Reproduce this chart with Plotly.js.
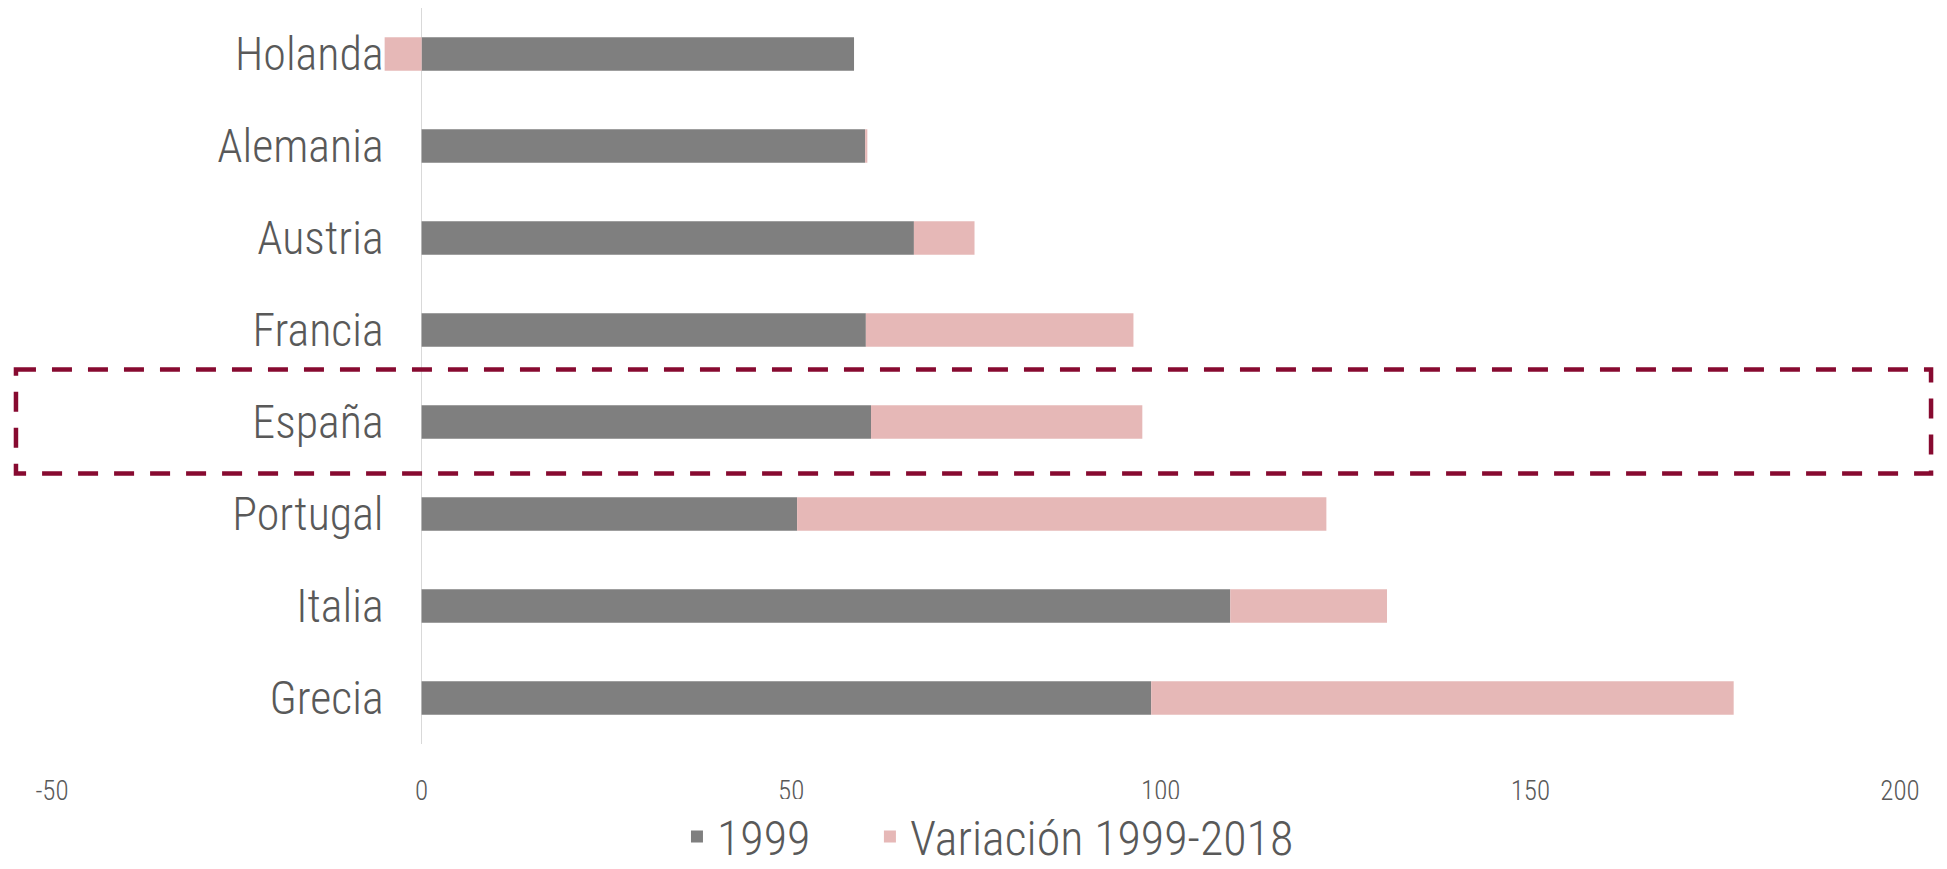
<!DOCTYPE html>
<html>
<head>
<meta charset="utf-8">
<script src="https://cdn.plot.ly/plotly-3.0.1.min.js"></script>
<style>html,body{margin:0;padding:0;background:#fff;}#chart{width:1947px;height:869px;}</style>
</head>
<body>
<div id="chart"></div>
<script>
const countries = ["Holanda", "Alemania", "Austria", "Francia", "España", "Portugal", "Italia", "Grecia"];
const debt1999 = [58.5, 60.0, 66.6, 60.1, 60.8, 50.8, 109.4, 98.7];
const variation = [-5.0, 0.3, 8.2, 36.2, 36.7, 71.6, 21.2, 78.8];
const xTicks = [-50, 0, 50, 100, 150, 200];
const highlighted = "España";

const FONT = '"Roboto Condensed", "Liberation Sans Narrow", sans-serif';
const xMin = -50, xMax = 200;
const hi = countries.indexOf(highlighted);

const traces = [
  {type: 'bar', orientation: 'h', name: '1999', y: countries, x: debt1999,
   marker: {color: '#7f7f7f'}, hoverinfo: 'x+y+name', legend: 'legend'},
  {type: 'bar', orientation: 'h', name: 'Variación 1999-2018', y: countries, x: variation,
   marker: {color: '#e6b8b7'}, hoverinfo: 'x+y+name', legend: 'legend2'}
];

const legendFont = {family: FONT, size: 48, color: '#595959', weight: 300};
const legendY = 0.037;

const layout = {
  width: 1947, height: 869,
  margin: {l: 52, r: 47, t: 7.5, b: 125, autoexpand: false},
  paper_bgcolor: '#ffffff', plot_bgcolor: '#ffffff',
  barmode: 'relative',
  bargap: 0.636,
  showlegend: true,
  legend: {orientation: 'h', xref: 'container', x: 0.3477, xanchor: 'left',
           yref: 'container', y: legendY, yanchor: 'middle', font: legendFont},
  legend2: {orientation: 'h', xref: 'container', x: 0.4468, xanchor: 'left',
            yref: 'container', y: legendY, yanchor: 'middle', font: legendFont},
  xaxis: {range: [xMin, xMax], tickvals: xTicks, ticktext: xTicks.map(String),
          showgrid: false, zeroline: true, zerolinecolor: '#d9d9d9', zerolinewidth: 1.5,
          showline: false, ticks: '', ticklabelstandoff: 28,
          tickfont: {family: FONT, size: 27, color: '#595959', weight: 300}, fixedrange: true},
  yaxis: {type: 'category', autorange: 'reversed', anchor: 'free',
          position: (0 - xMin) / (xMax - xMin),
          showgrid: false, zeroline: false, showline: false, ticks: '',
          ticklabelstandoff: 38,
          tickfont: {family: FONT, size: 46, color: '#595959', weight: 300}, fixedrange: true},
  shapes: [{type: 'rect', xref: 'paper', yref: 'y',
            x0: -0.0195, x1: 1.0168, y0: hi - 0.57, y1: hi + 0.56,
            line: {color: '#870a30', width: 4.5, dash: '20px,16px'},
            fillcolor: 'rgba(0,0,0,0)', layer: 'above'}]
};

Plotly.newPlot('chart', traces, layout, {displayModeBar: false, staticPlot: true});
</script>
</body>
</html>
